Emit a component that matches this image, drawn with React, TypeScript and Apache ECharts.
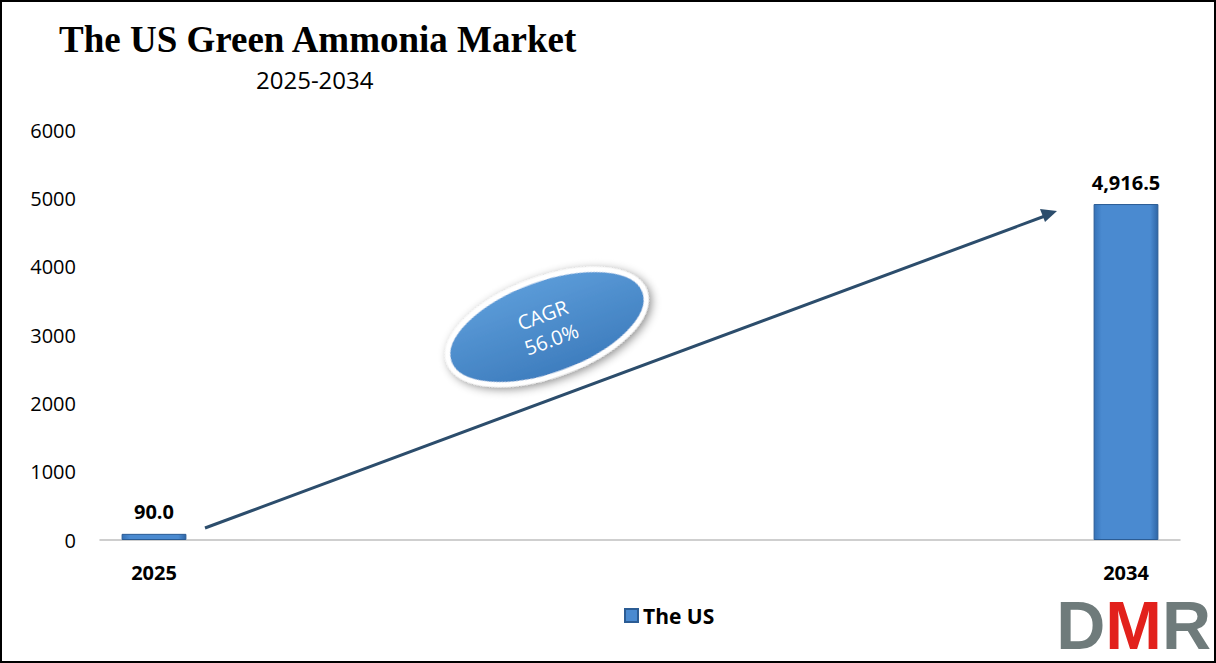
import React, { useEffect, useRef } from "react";
import * as echarts from "echarts";

const years = ["2025", "2026", "2027", "2028", "2029", "2030", "2031", "2032", "2033", "2034"];
const usValues: (number | null)[] = [90.0, null, null, null, null, null, null, null, null, 4916.5];
const yTicks = { min: 0, max: 6000, interval: 1000 };
const titleText = "The US Green Ammonia Market";
const subtitleText = "2025-2034";
const seriesName = "The US";
const cagrText = "CAGR\n56.0%";

export default function App() {
  const ref = useRef<HTMLDivElement>(null);
  useEffect(() => {
    document.body.style.margin = "0";
    const chart = echarts.init(ref.current!, null, { renderer: "svg" });
    const barGradient = new echarts.graphic.LinearGradient(0, 0, 1, 0, [
      { offset: 0, color: "#3572B8" },
      { offset: 0.12, color: "#4A8AD0" },
      { offset: 0.88, color: "#4A8AD0" },
      { offset: 1, color: "#2F66A6" },
    ]);
    chart.setOption({
      animation: false,
      backgroundColor: "#ffffff",
      title: [
        {
          text: titleText,
          left: 54,
          top: 16,
          textStyle: {
            fontFamily: "Liberation Serif",
            fontWeight: "bold",
            fontSize: 37,
            color: "#000",
          },
        },
        {
          text: subtitleText,
          left: 251,
          top: 62,
          textStyle: {
            fontFamily: "Open Sans",
            fontWeight: "normal",
            fontSize: 24,
            color: "#000",
          },
        },
      ],
      legend: {
        data: [seriesName],
        bottom: 32,
        left: 619,
        itemWidth: 13,
        itemHeight: 13,
        icon: "rect",
        textStyle: { fontFamily: "Open Sans", fontWeight: "bold", fontSize: 21, color: "#000" },
      },
      grid: { left: 100, right: 36, top: 130, bottom: 123, containLabel: false },
      xAxis: {
        type: "category",
        data: years,
        axisLine: { lineStyle: { color: "#BFBFBF", width: 1.5 } },
        axisTick: { show: false },
        axisLabel: {
          interval: 0,
          margin: 22,
          fontFamily: "Open Sans",
          fontWeight: "bold",
          fontSize: 20,
          color: "#000",
          formatter: (v: string, i: number) => (i === 0 || i === years.length - 1 ? v : ""),
        },
      },
      yAxis: {
        type: "value",
        min: yTicks.min,
        max: yTicks.max,
        interval: yTicks.interval,
        splitLine: { show: false },
        axisLine: { show: false },
        axisTick: { show: false },
        axisLabel: {
          fontFamily: "Open Sans",
          fontSize: 20,
          color: "#000",
          margin: 24,
          formatter: (v: number) => String(v),
        },
      },
      series: [
        {
          name: seriesName,
          type: "bar",
          data: usValues,
          barWidth: "60%",
          itemStyle: { color: barGradient, borderColor: "#2B5C94", borderWidth: 1 },
          label: {
            show: true,
            position: "top",
            distance: 12,
            fontFamily: "Open Sans",
            fontWeight: "bold",
            fontSize: 20,
            color: "#000",
            formatter: (p: any) =>
              p.value == null
                ? ""
                : Number(p.value).toLocaleString("en-US", { minimumFractionDigits: 1, maximumFractionDigits: 1 }),
          },
        },
      ],
      graphic: [
        {
          type: "rect",
          shape: { x: 1, y: 1, width: 1214, height: 661 },
          style: { fill: "none", stroke: "#000", lineWidth: 2 },
          silent: true,
        },
        {
          type: "line",
          shape: { x1: 205, y1: 528, x2: 1045, y2: 216 },
          style: { stroke: "#2C4D6C", lineWidth: 3 },
        },
        {
          type: "polygon",
          shape: { points: [[1057, 211], [1040, 209], [1045, 222]] },
          style: { fill: "#2C4D6C" },
        },
        {
          type: "group",
          x: 547,
          y: 327,
          rotation: (20 * Math.PI) / 180,
          children: [
            {
              type: "ellipse",
              shape: { cx: 0, cy: 0, rx: 104, ry: 48 },
              style: {
                fill: new echarts.graphic.LinearGradient(0, 0, 0, 1, [
                  { offset: 0, color: "#5B9BD8" },
                  { offset: 1, color: "#3E7DBE" },
                ]),
                stroke: "#ffffff",
                lineWidth: 5,
                shadowBlur: 10,
                shadowColor: "rgba(0,0,0,0.45)",
                shadowOffsetX: 2,
                shadowOffsetY: 3,
              },
            },
            {
              type: "text",
              x: 0,
              y: 0,
              style: {
                text: cagrText,
                fill: "#fff",
                fontFamily: "Open Sans",
                fontSize: 20,
                lineHeight: 26,
                align: "center",
                verticalAlign: "middle",
              },
            },
          ],
        },
        {
          type: "text",
          right: 5,
          bottom: 4,
          style: {
            text: "{d|D}{m|M}{r|R}",
            rich: {
              d: { fontFamily: "Liberation Sans", fontWeight: "bold", fontSize: 68, lineHeight: 64, fill: "#6F7B7B" },
              m: { fontFamily: "Liberation Sans", fontWeight: "bold", fontSize: 68, lineHeight: 64, fill: "#E2211C" },
              r: { fontFamily: "Liberation Sans", fontWeight: "bold", fontSize: 68, lineHeight: 64, fill: "#6F7B7B" },
            },
          },
        },
      ],
    });
    return () => chart.dispose();
  }, []);
  return <div ref={ref} style={{ width: 1216, height: 663 }} />;
}
